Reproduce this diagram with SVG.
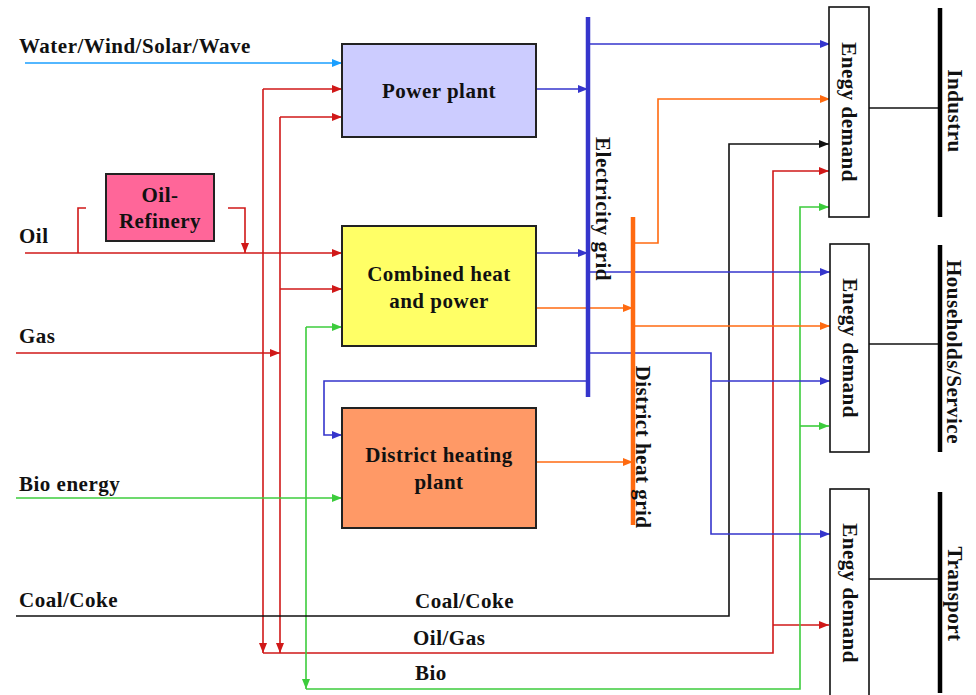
<svg xmlns="http://www.w3.org/2000/svg" width="976" height="695" viewBox="0 0 976 695">
<defs>
<style>
text{font-family:"Liberation Serif","Times New Roman",serif;font-weight:bold;font-size:21px;letter-spacing:0.5px;fill:#111}
.c{text-anchor:middle}
.ln{fill:none;stroke-width:1.6}
.lb{stroke:#1a9fff}
.rd{stroke:#d01818}
.gn{stroke:#3ccc3c}
.bk{stroke:#111}
.bl{stroke:#3535cc}
.or{stroke:#ff6a10}
.box{stroke:#222;stroke-width:2}
.dm{fill:#fff;stroke:#111;stroke-width:1.6}
.bar{stroke-width:4.5;fill:none}
</style>
<marker id="aLb" markerUnits="userSpaceOnUse" markerWidth="10" markerHeight="8" refX="10" refY="4" orient="auto"><path d="M0,0L10,4L0,8z" fill="#1a9fff"/></marker>
<marker id="aRd" markerUnits="userSpaceOnUse" markerWidth="10" markerHeight="8" refX="10" refY="4" orient="auto"><path d="M0,0L10,4L0,8z" fill="#d01818"/></marker>
<marker id="aGn" markerUnits="userSpaceOnUse" markerWidth="10" markerHeight="8" refX="10" refY="4" orient="auto"><path d="M0,0L10,4L0,8z" fill="#3ccc3c"/></marker>
<marker id="aBk" markerUnits="userSpaceOnUse" markerWidth="10" markerHeight="8" refX="10" refY="4" orient="auto"><path d="M0,0L10,4L0,8z" fill="#111"/></marker>
<marker id="aBl" markerUnits="userSpaceOnUse" markerWidth="10" markerHeight="8" refX="10" refY="4" orient="auto"><path d="M0,0L10,4L0,8z" fill="#3535cc"/></marker>
<marker id="aOr" markerUnits="userSpaceOnUse" markerWidth="10" markerHeight="8" refX="10" refY="4" orient="auto"><path d="M0,0L10,4L0,8z" fill="#ff6a10"/></marker>
</defs>
<rect width="976" height="695" fill="#fff"/>

<g id="connectors">
  <!-- renewables -->
  <path class="ln lb" d="M25,63H342" marker-end="url(#aLb)"/>
  <!-- oil -->
  <path class="ln rd" d="M25,253H342" marker-end="url(#aRd)"/>
  <path class="ln rd" d="M78,253V208H86"/>
  <path class="ln rd" d="M228,208H245V253" marker-end="url(#aRd)"/>
  <!-- red verticals -->
  <path class="ln rd" d="M263,89H342" marker-end="url(#aRd)"/>
  <path class="ln rd" d="M263,89V653" marker-end="url(#aRd)"/>
  <path class="ln rd" d="M280,117H342" marker-end="url(#aRd)"/>
  <path class="ln rd" d="M280,117V653" marker-end="url(#aRd)"/>
  <path class="ln rd" d="M280,289H342" marker-end="url(#aRd)"/>
  <path class="ln rd" d="M16,353H280" marker-end="url(#aRd)"/>
  <path class="ln rd" d="M263,653H773V171H829" marker-end="url(#aRd)"/>
  <path class="ln rd" d="M773,625H829" marker-end="url(#aRd)"/>
  <!-- bio -->
  <path class="ln gn" d="M16,498H342" marker-end="url(#aGn)"/>
  <path class="ln gn" d="M306,327H342" marker-end="url(#aGn)"/>
  <path class="ln gn" d="M306,327V689" marker-end="url(#aGn)"/>
  <path class="ln gn" d="M306,689H800V207H829" marker-end="url(#aGn)"/>
  <path class="ln gn" d="M800,426H829" marker-end="url(#aGn)"/>
  <!-- coal -->
  <path class="ln bk" d="M16,616H729V144H829" marker-end="url(#aBk)"/>
  <!-- electricity -->
  <path class="ln bl" d="M536,89H588" marker-end="url(#aBl)"/>
  <path class="ln bl" d="M536,253H588" marker-end="url(#aBl)"/>
  <path class="ln bl" d="M590,44H830" marker-end="url(#aBl)"/>
  <path class="ln bl" d="M590,272H830" marker-end="url(#aBl)"/>
  <path class="ln bl" d="M590,353H711V534H830" marker-end="url(#aBl)"/>
  <path class="ln bl" d="M711,381H830" marker-end="url(#aBl)"/>
  <path class="ln bl" d="M588,381H324V435H342" marker-end="url(#aBl)"/>
  <!-- heat -->
  <path class="ln or" d="M536,308H633" marker-end="url(#aOr)"/>
  <path class="ln or" d="M536,462H633" marker-end="url(#aOr)"/>
  <path class="ln or" d="M635,243H658V99H830" marker-end="url(#aOr)"/>
  <path class="ln or" d="M635,326H830" marker-end="url(#aOr)"/>
  <!-- demand to sectors -->
  <path class="ln bk" d="M869,108H940"/>
  <path class="ln bk" d="M869,344H940"/>
  <path class="ln bk" d="M869,579H940"/>
</g>

<g id="electricity-grid">
  <path class="bar" stroke="#3535cc" d="M588,17V397"/>
  <text transform="translate(596,209) rotate(90)" class="c">Electricity grid</text>
</g>
<g id="district-heat-grid">
  <path class="bar" stroke="#ff6a10" d="M633,217V525"/>
  <text transform="translate(636,447) rotate(90)" class="c">District heat grid</text>
</g>

<g id="power-plant">
  <rect class="box" x="342" y="44" width="194" height="93" fill="#ccccff"/>
  <text x="439" y="98" class="c">Power plant</text>
</g>
<g id="chp">
  <rect class="box" x="342" y="226" width="194" height="120" fill="#ffff66"/>
  <text x="439" y="281" class="c">Combined heat</text>
  <text x="439" y="308" class="c">and power</text>
</g>
<g id="district-heating-plant">
  <rect class="box" x="342" y="408" width="194" height="120" fill="#ff9966"/>
  <text x="439" y="462" class="c">District heating</text>
  <text x="439" y="489" class="c">plant</text>
</g>
<g id="oil-refinery">
  <rect class="box" x="106" y="174" width="108" height="67" fill="#ff6699"/>
  <text x="160" y="202" class="c">Oil-</text>
  <text x="160" y="228" class="c">Refinery</text>
</g>

<g id="demand-industry">
  <rect class="dm" x="829" y="7" width="40" height="210"/>
  <text transform="translate(842,112) rotate(90)" class="c">Enegy demand</text>
</g>
<g id="demand-households">
  <rect class="dm" x="830" y="244" width="39" height="208"/>
  <text transform="translate(843,348) rotate(90)" class="c">Enegy demand</text>
</g>
<g id="demand-transport">
  <rect class="dm" x="830" y="489" width="39" height="215"/>
  <text transform="translate(843,593) rotate(90)" class="c">Enegy demand</text>
</g>

<g id="sector-industry">
  <path class="bar" stroke="#000" d="M940,8V217"/>
  <text transform="translate(948,111) rotate(90)" class="c">Industru</text>
</g>
<g id="sector-households">
  <path class="bar" stroke="#000" d="M940,245V452"/>
  <text transform="translate(947,352) rotate(90)" class="c">Households/Service</text>
</g>
<g id="sector-transport">
  <path class="bar" stroke="#000" d="M940,492V693"/>
  <text transform="translate(948,594) rotate(90)" class="c">Transport</text>
</g>

<g id="labels">
  <text x="19" y="53">Water/Wind/Solar/Wave</text>
  <text x="19" y="243">Oil</text>
  <text x="19" y="343">Gas</text>
  <text x="19" y="491">Bio energy</text>
  <text x="19" y="607">Coal/Coke</text>
  <text x="415" y="608">Coal/Coke</text>
  <text x="413" y="645">Oil/Gas</text>
  <text x="415" y="680">Bio</text>
</g>
</svg>
